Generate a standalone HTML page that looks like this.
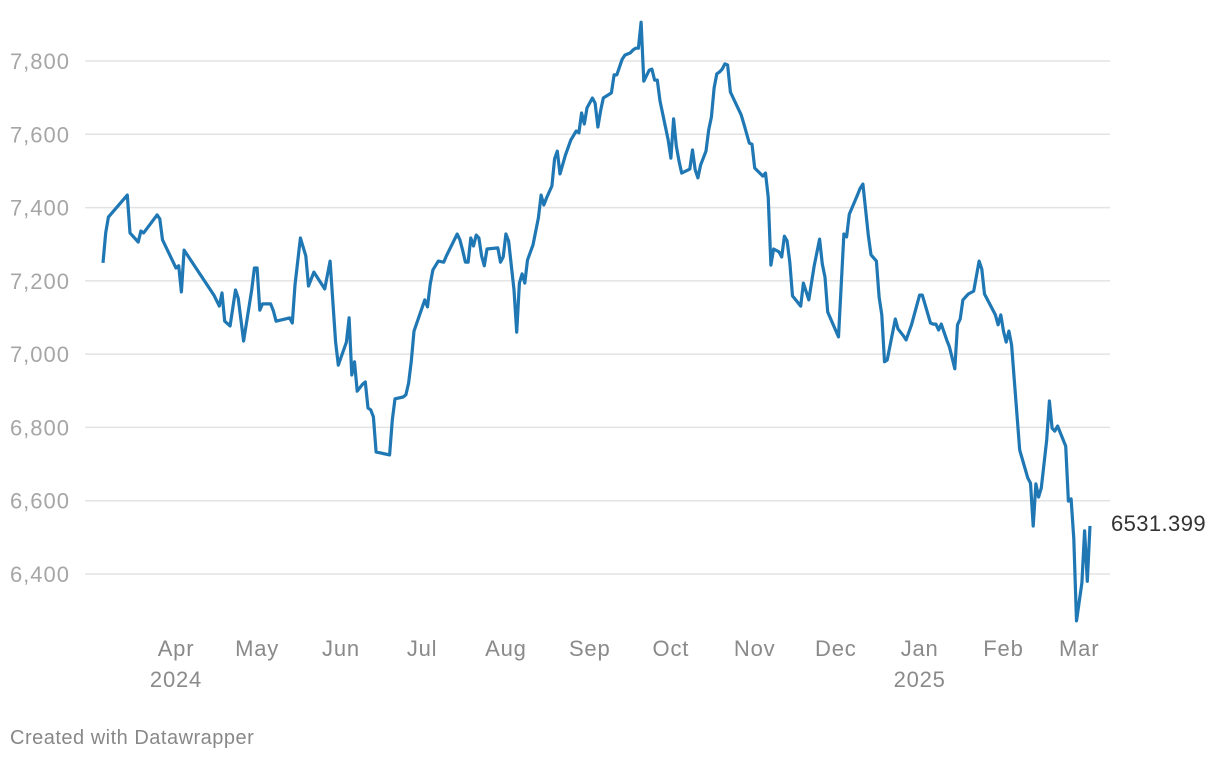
<!DOCTYPE html>
<html><head><meta charset="utf-8">
<style>
body{margin:0;background:#fff;width:1220px;height:760px;overflow:hidden;font-family:"Liberation Sans",sans-serif;}
svg text{font-family:"Liberation Sans",sans-serif;}
</style></head>
<body>
<svg id="chart" width="1220" height="760" xmlns="http://www.w3.org/2000/svg">
<g id="grid"></g>
<g id="yaxis"></g>
<g id="xaxis"></g>
<path id="line" fill="none" stroke="#1f77b4" stroke-width="3.2" stroke-linejoin="round"></path>
<text id="endlabel" x="1111" y="531" font-size="22" letter-spacing="0.4" fill="#333"></text>
<text x="10" y="744" font-size="20" letter-spacing="0.5" fill="#888">Created with Datawrapper</text>
</svg>
<script>
// days since 2024-03-05
const days=[0,1,2,9,10,13,14,15,20,21,22,27,28,29,30,41,43,44,45,47,49,50,52,55,56,57,58,59,62,63,64,69,70,71,73,75,76,78,82,84,86,87,90,91,92,93,94,96,97,98,99,100,101,106,107,108,111,112,113,114,115,119,120,121,122,124,126,127,129,131,132,133,134,135,136,137,138,139,140,141,142,146,147,148,149,150,152,153,154,155,156,157,159,161,162,163,164,166,167,168,169,171,173,175,176,177,178,179,181,182,183,184,185,188,189,190,192,193,195,196,197,198,199,200,202,203,204,205,206,209,210,211,212,213,214,217,218,219,220,221,223,224,225,226,227,228,229,230,231,232,236,237,239,240,241,244,245,246,247,248,250,251,252,253,254,255,258,259,261,263,265,266,267,268,272,274,275,276,279,280,281,283,284,286,287,288,289,290,293,294,296,297,299,302,303,306,307,308,309,310,312,313,315,316,317,318,320,322,323,324,325,326,330,331,332,333,334,335,336,337,339,342,343,344,345,346,347,349,350,351,352,353,356,357,358,359,360,362,363,364,365];
const values=[7249,7331,7374,7434,7331,7306,7336,7331,7380,7369,7312,7235,7241,7170,7284,7161,7131,7167,7090,7077,7175,7153,7036,7175,7235,7235,7120,7137,7137,7118,7090,7099,7085,7189,7317,7268,7186,7224,7178,7254,7033,6970,7033,7099,6943,6979,6899,6918,6924,6853,6848,6829,6733,6725,6820,6878,6883,6889,6921,6981,7063,7148,7129,7191,7230,7254,7251,7268,7298,7328,7312,7284,7251,7251,7317,7295,7325,7317,7268,7241,7287,7290,7251,7265,7328,7309,7175,7060,7194,7219,7194,7257,7298,7372,7434,7407,7426,7459,7533,7554,7492,7543,7584,7609,7604,7658,7628,7672,7699,7685,7620,7664,7699,7713,7762,7762,7805,7816,7822,7830,7835,7835,7906,7745,7775,7778,7748,7748,7691,7584,7535,7642,7568,7527,7494,7505,7557,7503,7481,7516,7554,7612,7647,7726,7765,7770,7778,7792,7789,7715,7653,7628,7576,7573,7508,7486,7494,7429,7243,7287,7279,7265,7322,7309,7251,7159,7131,7194,7148,7241,7314,7246,7210,7115,7047,7328,7320,7382,7434,7453,7464,7325,7271,7254,7156,7107,6979,6984,7096,7069,7050,7039,7080,7161,7161,7085,7082,7082,7066,7082,7039,7020,6960,7080,7096,7148,7164,7172,7213,7254,7232,7164,7107,7080,7107,7063,7033,7063,7025,6929,6738,6662,6648,6531,6646,6610,6635,6766,6872,6798,6790,6804,6749,6599,6605,6496,6272,6376,6518,6380,6531.399];
const yTicks=[6400,6600,6800,7000,7200,7400,7600,7800];
const monthLabels=["Apr","May","Jun","Jul","Aug","Sep","Oct","Nov","Dec","Jan","Feb","Mar"];
const monthDays=[27,57,88,118,149,180,210,241,271,302,333,361];
const yearLabels=["2024","","","","","","","","","2025","",""];

const NS="http://www.w3.org/2000/svg";
const x=d=>103+d*(1090-103)/365;
const y=v=>61+(7800-v)*(574-61)/1400;
function mk(tag,attrs,parent,txt){const e=document.createElementNS(NS,tag);for(const k in attrs)e.setAttribute(k,attrs[k]);if(txt!==undefined)e.textContent=txt;parent.appendChild(e);return e;}
const grid=document.getElementById('grid'),ya=document.getElementById('yaxis'),xa=document.getElementById('xaxis');
yTicks.forEach(t=>{
  const l=mk('line',{x1:85,x2:1110,y1:y(t),y2:y(t),stroke:'#e3e3e3','stroke-width':1.5},grid);
  
  
  const tx=mk('text',{x:70,y:y(t)+8,'text-anchor':'end','font-size':22,'letter-spacing':1,fill:'#a6a6a6'},ya,t.toLocaleString('en-US'));
  
  
});
monthLabels.forEach((m,i)=>{
  const tx=mk('text',{x:x(monthDays[i]),y:656,'text-anchor':'middle','font-size':22,'letter-spacing':0.8,fill:'#8a8a8a'},xa,m);
  
  
  if(yearLabels[i]){
    const yt=mk('text',{x:x(monthDays[i]),y:687,'text-anchor':'middle','font-size':22,'letter-spacing':0.8,fill:'#8a8a8a'},xa,yearLabels[i]);
    
    
  }
});
document.getElementById('line').setAttribute('d',days.map((d,i)=>(i?'L':'M')+x(d).toFixed(1)+','+y(values[i]).toFixed(1)).join(''));
document.getElementById('endlabel').textContent=String(values[values.length-1]);
</script>
</body></html>
